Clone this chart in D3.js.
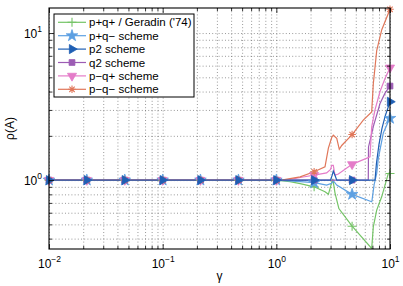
<!DOCTYPE html>
<html>
<head>
<meta charset="utf-8">
<script src="https://cdn.jsdelivr.net/npm/d3@7"></script>
<style>
  body { margin: 0; background: #fff; }
  text { font-family: "Liberation Sans", Arial, sans-serif; fill: #000; }
</style>
</head>
<body>
<div id="chart"></div>
<script>
// series names (legend order)
const seriesNames = ["p+q+ / Geradin ('74)", "p+q\u2212 scheme", "p2 scheme", "q2 scheme", "p\u2212q+ scheme", "p\u2212q\u2212 scheme"];

// gamma values where markers sit (same for every series)
const markGamma = [0.01, 0.0215, 0.0464, 0.1, 0.215, 0.464, 1, 2.15, 4.64, 10];

// p+q+ / Geradin
const greenGamma = [0.01, 1, 1.32, 1.62, 2.15, 2.68, 2.87, 3.07, 3.14, 3.28, 3.55, 4.64, 6.9, 7.13, 7.64, 8.45, 9.67, 10];
const greenRho = [1, 1, 0.975, 0.947, 0.90, 0.833, 0.80, 0.96, 1.02, 0.82, 0.64, 0.486, 0.343, 0.48, 0.625, 0.77, 1.11, 1.12];
const greenMarks = [1, 1, 1, 1, 1, 1, 1, 0.90, 0.486, 1.11];

// p+q- scheme
const lbGamma = [0.01, 1, 1.62, 2.15, 2.77, 3.07, 3.17, 3.4, 4.64, 6.9, 6.95, 7.25, 7.64, 7.89, 8.73, 9.67, 10];
const lbRho = [1, 1, 0.975, 0.96, 0.925, 0.95, 0.99, 0.925, 0.80, 0.712, 0.73, 0.93, 1.11, 1.4, 2.09, 2.5, 2.63];
const lbMarks = [1, 1, 1, 1, 1, 1, 1, 0.96, 0.80, 2.63];

// p2 scheme
const dbGamma = [0.01, 3.0, 3.1, 3.17, 3.28, 3.4, 7.38, 7.6, 8.0, 8.5, 9.04, 10];
const dbRho = [1, 1, 1.08, 1.15, 1.08, 1, 1, 1.3, 1.75, 2.25, 2.7, 3.41];
const dbMarks = [1, 1, 1, 1, 1, 1, 1, 1, 1, 3.41];

// q2 scheme
const puGamma = [0.01, 6.44, 6.47, 7.13, 8.17, 9.04, 10];
const puRho = [1, 1, 1.68, 2.31, 3.32, 3.9, 4.36];
const puMarks = [1, 1, 1, 1, 1, 1, 1, 1, 1, 4.36];

// p-q+ scheme
const piGamma = [0.01, 1, 1.32, 1.72, 2.15, 2.77, 3.0, 3.07, 3.17, 3.28, 3.51, 4.64, 6.67, 6.9, 7.38, 8.17, 9.04, 10];
const piRho = [1, 1, 1.01, 1.05, 1.08, 1.12, 1.18, 1.26, 1.26, 1.08, 1.10, 1.28, 1.44, 2.3, 3.0, 4.0, 4.9, 5.81];
const piMarks = [1, 1, 1, 1, 1, 1, 1, 1.08, 1.28, 5.81];

// p-q- scheme
const orGamma = [0.01, 1, 1.14, 1.62, 2.15, 2.68, 2.87, 3.07, 3.17, 3.4, 3.58, 3.76, 4.64, 5.82, 6.9, 7.13, 7.64, 8.45, 10];
const orRho = [1, 1, 1.005, 1.053, 1.139, 1.232, 1.65, 1.95, 2.02, 1.92, 1.62, 1.72, 2.04, 2.56, 2.91, 4.5, 7.6, 10.5, 14.5];
const orMarks = [1, 1, 1, 1, 1, 1, 1, 1.139, 2.04, 14.5];

// axis ranges / tick labels
const xDomain = [0.01, 10];
const yDomain = [0.34, 14.8];
const xMajor = [0.01, 0.1, 1, 10];
const xMajorExp = ["\u22122", "\u22121", "0", "1"];
const yMajor = [1, 10];
const yMajorExp = ["0", "1"];

document.addEventListener("DOMContentLoaded", function () {
    const width = 403, height = 286;
    const margin = {top: 8, right: 13, bottom: 37, left: 49};
    const innerWidth = width - margin.left - margin.right,
        innerHeight = height - margin.top - margin.bottom;

    const svg = d3.select('#chart').append('svg')
        .attr('width', width)
        .attr('height', height);

    const g = svg.append('g')
        .attr('transform', `translate(${margin.left},${margin.top})`);

    const xScale = d3.scaleLog().domain(xDomain).range([0, innerWidth]);
    const yScale = d3.scaleLog().domain(yDomain).range([innerHeight, 0]);

    const xAll = xScale.ticks();
    const yAll = yScale.ticks();
    const xMinor = xAll.filter(d => !xMajor.some(m => Math.abs(m - d) < 1e-9));
    const yMinor = yAll.filter(d => !yMajor.some(m => Math.abs(m - d) < 1e-9));

    //dotted grid (major + minor)
    const gridX = g.append('g').attr('class', 'grid')
        .attr('transform', `translate(0,${innerHeight})`)
        .call(d3.axisBottom(xScale).tickValues(xAll).tickSize(-innerHeight).tickFormat(''));
    const gridY = g.append('g').attr('class', 'grid')
        .call(d3.axisLeft(yScale).tickValues(yAll).tickSize(-innerWidth).tickFormat(''));
    [gridX, gridY].forEach(a => {
        a.select('.domain').remove();
        a.selectAll('line').attr('stroke', '#555').attr('stroke-width', 0.6).attr('stroke-dasharray', '1,2.2');
    });

    //lines
    const series = [
        {gamma: greenGamma, rho: greenRho, marks: greenMarks, color: '#74c466', marker: 'plus'},
        {gamma: lbGamma, rho: lbRho, marks: lbMarks, color: '#5da0e2', marker: 'star'},
        {gamma: dbGamma, rho: dbRho, marks: dbMarks, color: '#1f5fb4', marker: 'right'},
        {gamma: puGamma, rho: puRho, marks: puMarks, color: '#9c5cb4', marker: 'square'},
        {gamma: piGamma, rho: piRho, marks: piMarks, color: '#e47cc9', marker: 'down'},
        {gamma: orGamma, rho: orRho, marks: orMarks, color: '#e0775a', marker: 'asterisk'}
    ];
    series.forEach((s, i) => s.name = seriesNames[i]);

    svg.append('clipPath').attr('id', 'clip')
        .append('rect').attr('width', innerWidth).attr('height', innerHeight);

    const line = d3.line()
        .x(d => xScale(d[0]))
        .y(d => yScale(d[1]));

    function drawMarker(sel, type, color, x, y) {
        let p;
        if (type === 'plus') {
            p = sel.append('path').attr('d', `M${x - 4.5},${y}H${x + 4.5}M${x},${y - 4.5}V${y + 4.5}`)
                .attr('stroke', color).attr('stroke-width', 1.1).attr('fill', 'none');
        } else if (type === 'asterisk') {
            const r = 3.8, q = r * 0.7071;
            p = sel.append('path').attr('d', `M${x - r},${y}H${x + r}M${x},${y - r}V${y + r}M${x - q},${y - q}L${x + q},${y + q}M${x - q},${y + q}L${x + q},${y - q}`)
                .attr('stroke', color).attr('stroke-width', 1.1).attr('fill', 'none');
        } else {
            let sym, size, rot = 0;
            if (type === 'star') { sym = d3.symbolStar; size = 42; }
            if (type === 'square') { sym = d3.symbolSquare; size = 34; }
            if (type === 'right') { sym = d3.symbolTriangle; size = 36; rot = 90; }
            if (type === 'down') { sym = d3.symbolTriangle; size = 36; rot = 180; }
            p = sel.append('path').attr('d', d3.symbol().type(sym).size(size)())
                .attr('transform', `translate(${x},${y}) rotate(${rot})`)
                .attr('fill', color).attr('stroke', color).attr('stroke-width', 0.8);
        }
        return p;
    }

    // draw order: p2 last so it sits on top of the flat part
    const order = [0, 1, 3, 4, 5, 2];
    const plot = g.append('g').attr('clip-path', 'url(#clip)');
    order.forEach(i => {
        const s = series[i];
        const pts = s.gamma.map((v, k) => [v, s.rho[k]]);
        plot.append('path')
            .datum(pts)
            .attr('fill', 'none')
            .attr('stroke', s.color)
            .attr('stroke-width', 1.2)
            .attr('d', line);
    });
    const markG = g.append('g');
    order.forEach(i => {
        const s = series[i];
        markGamma.forEach((v, k) => drawMarker(markG, s.marker, s.color, xScale(v), yScale(s.marks[k])));
    });

    //axes: inward ticks on all four sides
    function tickAxis(axisFn, scale, values, size, transform) {
        const a = g.append('g').attr('transform', transform)
            .call(axisFn(scale).tickValues(values).tickSize(size).tickFormat(''));
        a.select('.domain').remove();
        a.selectAll('line').attr('stroke', '#000').attr('stroke-width', 0.8);
        return a;
    }
    tickAxis(d3.axisBottom, xScale, xMajor, -5, `translate(0,${innerHeight})`);
    tickAxis(d3.axisBottom, xScale, xMinor, -3, `translate(0,${innerHeight})`);
    tickAxis(d3.axisTop, xScale, xMajor, -5, 'translate(0,0)');
    tickAxis(d3.axisTop, xScale, xMinor, -3, 'translate(0,0)');
    tickAxis(d3.axisLeft, yScale, yMajor, -5, 'translate(0,0)');
    tickAxis(d3.axisLeft, yScale, yMinor, -3, 'translate(0,0)');
    tickAxis(d3.axisRight, yScale, yMajor, -5, `translate(${innerWidth},0)`);
    tickAxis(d3.axisRight, yScale, yMinor, -3, `translate(${innerWidth},0)`);

    g.append('rect')
        .attr('width', innerWidth).attr('height', innerHeight)
        .attr('fill', 'none').attr('stroke', '#000').attr('stroke-width', 1.1);

    //tick labels with superscript exponents
    const xLab = g.append('g').attr('transform', `translate(0,${innerHeight})`)
        .call(d3.axisBottom(xScale).tickValues(xMajor).tickSize(0).tickPadding(0).tickFormat(''));
    xLab.select('.domain').remove();
    xLab.selectAll('.tick text').each(function (d, i) {
        const t = d3.select(this).attr('y', 19).attr('dy', 0).attr('font-size', 12).attr('text-anchor', 'middle');
        t.append('tspan').text('10');
        t.append('tspan').attr('dy', -6).attr('font-size', 8.5).text(xMajorExp[i]);
    });

    const yLab = g.append('g')
        .call(d3.axisLeft(yScale).tickValues(yMajor).tickSize(0).tickPadding(0).tickFormat(''));
    yLab.select('.domain').remove();
    yLab.selectAll('.tick text').each(function (d, i) {
        const t = d3.select(this).attr('x', -7).attr('dy', 0).attr('y', 4.5).attr('font-size', 12).attr('text-anchor', 'end');
        t.append('tspan').text('10');
        t.append('tspan').attr('dy', -6).attr('font-size', 8.5).text(yMajorExp[i]);
    });

    //axis titles
    svg.append('text')
        .attr('x', margin.left + innerWidth / 2)
        .attr('y', 280)
        .attr('text-anchor', 'middle')
        .attr('font-size', 12)
        .text('\u03b3');
    svg.append('text')
        .attr('transform', `translate(14,${margin.top + innerHeight / 2}) rotate(-90)`)
        .attr('text-anchor', 'middle')
        .attr('font-size', 12)
        .text('\u03c1(A)');

    //legend
    const leg = svg.append('g').attr('transform', 'translate(54,14)');
    leg.append('rect')
        .attr('width', 140).attr('height', 83)
        .attr('fill', '#fff').attr('stroke', '#000').attr('stroke-width', 1);
    series.forEach((s, i) => {
        const y = 8.3 + i * 13.4;
        leg.append('line').attr('x1', 4).attr('x2', 32).attr('y1', y).attr('y2', y)
            .attr('stroke', s.color).attr('stroke-width', 1.2);
        drawMarker(leg, s.marker, s.color, 18, y);
        leg.append('text').attr('x', 35).attr('y', y + 4)
            .attr('font-size', 11.5)
            .text(s.name);
    });
});
</script>
</body>
</html>
